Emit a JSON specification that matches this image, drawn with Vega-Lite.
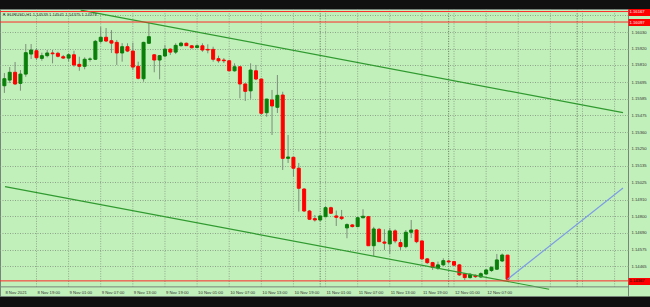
{
"$schema":"https://vega.github.io/schema/vega-lite/v6.json",
"width":628,"height":287,
"autosize":{"type":"none"},
"padding":{"left":0,"right":22,"top":9,"bottom":11},
"background":"#101010",
"config":{"view":{"fill":"#c2f0ba","stroke":"#77857a","strokeWidth":1}},
"title":{"text":"▼ EURUSD,H1  1.14539 1.14541 1.14375 1.14378","anchor":"start","frame":"group","orient":"top","offset":-11.5,"font":"Liberation Sans","fontSize":4.2,"fontWeight":"normal","color":"#333333","dx":2,"baseline":"middle"},
"resolve":{"axis":{"y":"independent"}},
"datasets":{
"bars":[
{"t":"2021-11-08T13:00:00Z","o":1.15671,"h":1.15756,"l":1.15623,"c":1.15718},
{"t":"2021-11-08T14:00:00Z","o":1.15709,"h":1.15796,"l":1.15689,"c":1.15761},
{"t":"2021-11-08T15:00:00Z","o":1.15761,"h":1.15830,"l":1.15676,"c":1.15683},
{"t":"2021-11-08T16:00:00Z","o":1.15687,"h":1.15776,"l":1.15638,"c":1.15749},
{"t":"2021-11-08T17:00:00Z","o":1.15749,"h":1.15950,"l":1.15731,"c":1.15892},
{"t":"2021-11-08T18:00:00Z","o":1.15883,"h":1.15950,"l":1.15850,"c":1.15910},
{"t":"2021-11-08T19:00:00Z","o":1.15905,"h":1.15923,"l":1.15843,"c":1.15858},
{"t":"2021-11-08T20:00:00Z","o":1.15854,"h":1.15892,"l":1.15838,"c":1.15872},
{"t":"2021-11-08T21:00:00Z","o":1.15872,"h":1.15910,"l":1.15861,"c":1.15890},
{"t":"2021-11-08T22:00:00Z","o":1.15890,"h":1.15910,"l":1.15821,"c":1.15885},
{"t":"2021-11-08T23:00:00Z","o":1.15888,"h":1.15898,"l":1.15861,"c":1.15868},
{"t":"2021-11-09T00:00:00Z","o":1.15865,"h":1.15877,"l":1.15850,"c":1.15856},
{"t":"2021-11-09T01:00:00Z","o":1.15856,"h":1.15888,"l":1.15832,"c":1.15878},
{"t":"2021-11-09T02:00:00Z","o":1.15878,"h":1.15905,"l":1.15798,"c":1.15810},
{"t":"2021-11-09T03:00:00Z","o":1.15814,"h":1.15865,"l":1.15771,"c":1.15801},
{"t":"2021-11-09T04:00:00Z","o":1.15801,"h":1.15861,"l":1.15781,"c":1.15848},
{"t":"2021-11-09T05:00:00Z","o":1.15848,"h":1.15861,"l":1.15832,"c":1.15850},
{"t":"2021-11-09T06:00:00Z","o":1.15848,"h":1.15977,"l":1.15843,"c":1.15968},
{"t":"2021-11-09T07:00:00Z","o":1.15968,"h":1.16065,"l":1.15955,"c":1.15995},
{"t":"2021-11-09T08:00:00Z","o":1.15995,"h":1.16057,"l":1.15963,"c":1.15970},
{"t":"2021-11-09T09:00:00Z","o":1.15972,"h":1.16043,"l":1.15890,"c":1.15956},
{"t":"2021-11-09T10:00:00Z","o":1.15961,"h":1.15977,"l":1.15810,"c":1.15890},
{"t":"2021-11-09T11:00:00Z","o":1.15890,"h":1.15956,"l":1.15832,"c":1.15932},
{"t":"2021-11-09T12:00:00Z","o":1.15932,"h":1.15955,"l":1.15896,"c":1.15903},
{"t":"2021-11-09T13:00:00Z","o":1.15903,"h":1.15959,"l":1.15776,"c":1.15796},
{"t":"2021-11-09T14:00:00Z","o":1.15801,"h":1.15832,"l":1.15714,"c":1.15721},
{"t":"2021-11-09T15:00:00Z","o":1.15718,"h":1.15965,"l":1.15698,"c":1.15961},
{"t":"2021-11-09T16:00:00Z","o":1.15955,"h":1.16092,"l":1.15950,"c":1.15999},
{"t":"2021-11-09T17:00:00Z","o":1.15878,"h":1.15883,"l":1.15761,"c":1.15843},
{"t":"2021-11-09T18:00:00Z","o":1.15843,"h":1.15877,"l":1.15714,"c":1.15872},
{"t":"2021-11-09T19:00:00Z","o":1.15870,"h":1.15943,"l":1.15861,"c":1.15916},
{"t":"2021-11-09T20:00:00Z","o":1.15916,"h":1.15921,"l":1.15877,"c":1.15896},
{"t":"2021-11-09T21:00:00Z","o":1.15896,"h":1.15955,"l":1.15883,"c":1.15941},
{"t":"2021-11-09T22:00:00Z","o":1.15939,"h":1.15965,"l":1.15932,"c":1.15956},
{"t":"2021-11-09T23:00:00Z","o":1.15955,"h":1.15960,"l":1.15937,"c":1.15939},
{"t":"2021-11-10T00:00:00Z","o":1.15938,"h":1.15943,"l":1.15920,"c":1.15925},
{"t":"2021-11-10T01:00:00Z","o":1.15927,"h":1.15947,"l":1.15922,"c":1.15938},
{"t":"2021-11-10T02:00:00Z","o":1.15938,"h":1.15955,"l":1.15898,"c":1.15910},
{"t":"2021-11-10T03:00:00Z","o":1.15914,"h":1.15948,"l":1.15888,"c":1.15910},
{"t":"2021-11-10T04:00:00Z","o":1.15914,"h":1.15932,"l":1.15832,"c":1.15848},
{"t":"2021-11-10T05:00:00Z","o":1.15852,"h":1.15872,"l":1.15825,"c":1.15838},
{"t":"2021-11-10T06:00:00Z","o":1.15843,"h":1.15856,"l":1.15823,"c":1.15838},
{"t":"2021-11-10T07:00:00Z","o":1.15838,"h":1.15843,"l":1.15769,"c":1.15771},
{"t":"2021-11-10T08:00:00Z","o":1.15771,"h":1.15821,"l":1.15765,"c":1.15798},
{"t":"2021-11-10T09:00:00Z","o":1.15798,"h":1.15800,"l":1.15587,"c":1.15683},
{"t":"2021-11-10T10:00:00Z","o":1.15683,"h":1.15685,"l":1.15569,"c":1.15634},
{"t":"2021-11-10T11:00:00Z","o":1.15637,"h":1.15821,"l":1.15584,"c":1.15776},
{"t":"2021-11-10T12:00:00Z","o":1.15771,"h":1.15810,"l":1.15709,"c":1.15716},
{"t":"2021-11-10T13:00:00Z","o":1.15716,"h":1.15718,"l":1.15476,"c":1.15487},
{"t":"2021-11-10T14:00:00Z","o":1.15491,"h":1.15584,"l":1.15464,"c":1.15582},
{"t":"2021-11-10T15:00:00Z","o":1.15576,"h":1.15643,"l":1.15342,"c":1.15536},
{"t":"2021-11-10T16:00:00Z","o":1.15527,"h":1.15743,"l":1.15489,"c":1.15607},
{"t":"2021-11-10T17:00:00Z","o":1.15609,"h":1.15631,"l":1.15108,"c":1.15186},
{"t":"2021-11-10T18:00:00Z","o":1.15186,"h":1.15342,"l":1.15155,"c":1.15195},
{"t":"2021-11-10T19:00:00Z","o":1.15193,"h":1.15195,"l":1.15063,"c":1.15120},
{"t":"2021-11-10T20:00:00Z","o":1.15120,"h":1.15155,"l":1.14830,"c":1.14986},
{"t":"2021-11-10T21:00:00Z","o":1.14981,"h":1.14986,"l":1.14828,"c":1.14834},
{"t":"2021-11-10T22:00:00Z","o":1.14834,"h":1.14841,"l":1.14774,"c":1.14779},
{"t":"2021-11-10T23:00:00Z","o":1.14783,"h":1.14807,"l":1.14763,"c":1.14774},
{"t":"2021-11-11T00:00:00Z","o":1.14774,"h":1.14803,"l":1.14768,"c":1.14801},
{"t":"2021-11-11T01:00:00Z","o":1.14796,"h":1.14868,"l":1.14792,"c":1.14856},
{"t":"2021-11-11T02:00:00Z","o":1.14856,"h":1.14863,"l":1.14814,"c":1.14819},
{"t":"2021-11-11T03:00:00Z","o":1.14801,"h":1.14837,"l":1.14734,"c":1.14792},
{"t":"2021-11-11T04:00:00Z","o":1.14794,"h":1.14841,"l":1.14774,"c":1.14783},
{"t":"2021-11-11T05:00:00Z","o":1.14721,"h":1.14752,"l":1.14652,"c":1.14743},
{"t":"2021-11-11T06:00:00Z","o":1.14741,"h":1.14747,"l":1.14724,"c":1.14730},
{"t":"2021-11-11T07:00:00Z","o":1.14730,"h":1.14796,"l":1.14725,"c":1.14789},
{"t":"2021-11-11T08:00:00Z","o":1.14789,"h":1.14846,"l":1.14785,"c":1.14799},
{"t":"2021-11-11T09:00:00Z","o":1.14796,"h":1.14801,"l":1.14600,"c":1.14602},
{"t":"2021-11-11T10:00:00Z","o":1.14602,"h":1.14728,"l":1.14534,"c":1.14714},
{"t":"2021-11-11T11:00:00Z","o":1.14712,"h":1.14721,"l":1.14627,"c":1.14629},
{"t":"2021-11-11T12:00:00Z","o":1.14627,"h":1.14712,"l":1.14574,"c":1.14619},
{"t":"2021-11-11T13:00:00Z","o":1.14614,"h":1.14721,"l":1.14547,"c":1.14701},
{"t":"2021-11-11T14:00:00Z","o":1.14701,"h":1.14712,"l":1.14619,"c":1.14634},
{"t":"2021-11-11T15:00:00Z","o":1.14623,"h":1.14645,"l":1.14574,"c":1.14596},
{"t":"2021-11-11T16:00:00Z","o":1.14596,"h":1.14707,"l":1.14585,"c":1.14692},
{"t":"2021-11-11T17:00:00Z","o":1.14692,"h":1.14774,"l":1.14654,"c":1.14707},
{"t":"2021-11-11T18:00:00Z","o":1.14707,"h":1.14712,"l":1.14619,"c":1.14629},
{"t":"2021-11-11T19:00:00Z","o":1.14634,"h":1.14636,"l":1.14507,"c":1.14514},
{"t":"2021-11-11T20:00:00Z","o":1.14514,"h":1.14520,"l":1.14480,"c":1.14489},
{"t":"2021-11-11T21:00:00Z","o":1.14489,"h":1.14494,"l":1.14440,"c":1.14458},
{"t":"2021-11-11T22:00:00Z","o":1.14452,"h":1.14496,"l":1.14440,"c":1.14474},
{"t":"2021-11-11T23:00:00Z","o":1.14474,"h":1.14518,"l":1.14467,"c":1.14502},
{"t":"2021-11-12T00:00:00Z","o":1.14500,"h":1.14507,"l":1.14487,"c":1.14494},
{"t":"2021-11-12T01:00:00Z","o":1.14496,"h":1.14500,"l":1.14467,"c":1.14472},
{"t":"2021-11-12T02:00:00Z","o":1.14474,"h":1.14480,"l":1.14400,"c":1.14407},
{"t":"2021-11-12T03:00:00Z","o":1.14414,"h":1.14420,"l":1.14373,"c":1.14389},
{"t":"2021-11-12T04:00:00Z","o":1.14389,"h":1.14420,"l":1.14382,"c":1.14411},
{"t":"2021-11-12T05:00:00Z","o":1.14404,"h":1.14410,"l":1.14387,"c":1.14395},
{"t":"2021-11-12T06:00:00Z","o":1.14393,"h":1.14424,"l":1.14387,"c":1.14415},
{"t":"2021-11-12T07:00:00Z","o":1.14413,"h":1.14447,"l":1.14407,"c":1.14440},
{"t":"2021-11-12T08:00:00Z","o":1.14436,"h":1.14464,"l":1.14427,"c":1.14458},
{"t":"2021-11-12T09:00:00Z","o":1.14445,"h":1.14547,"l":1.14440,"c":1.14507},
{"t":"2021-11-12T10:00:00Z","o":1.14500,"h":1.14550,"l":1.14493,"c":1.14540},
{"t":"2021-11-12T11:00:00Z","o":1.14539,"h":1.14541,"l":1.14375,"c":1.14378}
],
"lines":[
{"id":"up","t":"2021-11-09T03:16:00Z","p":1.16177},
{"id":"up","t":"2021-11-13T08:34:00Z","p":1.15491},
{"id":"lo","t":"2021-11-08T13:07:00Z","p":1.14997},
{"id":"lo","t":"2021-11-12T18:46:00Z","p":1.14311},
{"id":"proj","t":"2021-11-12T11:00:00Z","p":1.14378},
{"id":"proj","t":"2021-11-13T08:34:00Z","p":1.14988}
],
"hl":[
{"p":1.16167},
{"p":1.16097},
{"p":1.14367}
],
"sep":[
{"t":"2021-11-11T00:00:00Z"},
{"t":"2021-11-12T00:00:00Z"},
{"t":"2021-11-13T00:00:00Z"}
],
"vgrid":[
{"t":"2021-11-08T19:00:00Z"},{"t":"2021-11-09T01:00:00Z"},{"t":"2021-11-09T07:00:00Z"},{"t":"2021-11-09T13:00:00Z"},
{"t":"2021-11-09T19:00:00Z"},{"t":"2021-11-10T01:00:00Z"},{"t":"2021-11-10T07:00:00Z"},{"t":"2021-11-10T13:00:00Z"},
{"t":"2021-11-10T19:00:00Z"},{"t":"2021-11-11T01:00:00Z"},{"t":"2021-11-11T07:00:00Z"},{"t":"2021-11-11T13:00:00Z"},
{"t":"2021-11-11T19:00:00Z"},{"t":"2021-11-12T01:00:00Z"},{"t":"2021-11-12T07:00:00Z"},{"t":"2021-11-12T13:00:00Z"},
{"t":"2021-11-12T19:00:00Z"},{"t":"2021-11-13T01:00:00Z"},{"t":"2021-11-13T07:00:00Z"}
],
"xlab":[
{"t":"2021-11-08T13:00:00Z"},{"t":"2021-11-08T19:00:00Z"},{"t":"2021-11-09T01:00:00Z"},{"t":"2021-11-09T07:00:00Z"},
{"t":"2021-11-09T13:00:00Z"},{"t":"2021-11-09T19:00:00Z"},{"t":"2021-11-10T01:00:00Z"},{"t":"2021-11-10T07:00:00Z"},
{"t":"2021-11-10T13:00:00Z"},{"t":"2021-11-10T19:00:00Z"},{"t":"2021-11-11T01:00:00Z"},{"t":"2021-11-11T07:00:00Z"},
{"t":"2021-11-11T13:00:00Z"},{"t":"2021-11-11T19:00:00Z"},{"t":"2021-11-12T01:00:00Z"},{"t":"2021-11-12T07:00:00Z"}
]
},
"layer":[
{"data":{"name":"vgrid"},"mark":{"type":"rule","color":"#8ea58b","strokeDash":[1,1.5],"strokeWidth":1},
"encoding":{
"x":{"field":"t","type":"temporal","scale":{"type":"utc","nice":false,"domain":[1636376820000,1636792440000]},"axis":null},
"y":{"datum":1.14327,"type":"quantitative","scale":{"domain":[1.14266,1.16184],"zero":false,"nice":false},
"axis":{"title":null,"orient":"right","offset":11.5,"labels":false,"ticks":false,"grid":false,"domain":true,"domainColor":"#c2f0ba","domainWidth":22}},
"y2":{"datum":1.16184}}},
{"data":{"name":"sep"},"mark":{"type":"rule","color":"#5e705b","strokeDash":[1,1.5],"strokeWidth":1},
"encoding":{
"x":{"field":"t","type":"temporal","scale":{"type":"utc","nice":false,"domain":[1636376820000,1636792440000]},"axis":null},
"y":{"datum":1.14327,"type":"quantitative","scale":{"domain":[1.14266,1.16184],"zero":false,"nice":false},"axis":null},
"y2":{"datum":1.16184}}},
{"data":{"name":"bars"},"mark":{"type":"rule","color":"#7b8d79","strokeWidth":1},
"encoding":{
"x":{"field":"t","type":"temporal","scale":{"type":"utc","nice":false,"domain":[1636376820000,1636792440000]},"axis":null},
"y":{"field":"l","type":"quantitative","scale":{"domain":[1.14266,1.16184],"zero":false,"nice":false},
"axis":{"title":null,"orient":"right","offset":0,
"values":[1.16145,1.1603,1.1592,1.1581,1.15695,1.15585,1.15475,1.1536,1.1525,1.15135,1.15025,1.1491,1.148,1.1469,1.14575,1.14465],
"format":".5f","labelFont":"Liberation Sans","labelFontSize":4.2,"labelColor":"#333333",
"labelPadding":3,"labelAlign":"left","labelBaseline":"middle","ticks":false,
"labelOverlap":false,"labelBound":false,"labelFlush":false,
"domain":false,
"grid":true,"gridColor":"#8ea58b","gridDash":[1,1.5],"gridWidth":1}},
"y2":{"field":"h"}}},
{"data":{"name":"bars"},"mark":{"type":"bar","size":3,"strokeWidth":1},
"encoding":{
"x":{"field":"t","type":"temporal","scale":{"type":"utc","nice":false,"domain":[1636376820000,1636792440000]},"axis":null},
"y":{"field":"o","type":"quantitative","scale":{"domain":[1.14266,1.16184],"zero":false,"nice":false},"axis":null},"y2":{"field":"c"},
"color":{"condition":{"test":"datum.c >= datum.o","value":"#0a7f0a"},"value":"#ff0000"},
"stroke":{"condition":{"test":"datum.c >= datum.o","value":"#0a7f0a"},"value":"#ff0000"}}},
{"data":{"name":"lines"},"mark":{"type":"line"},
"encoding":{
"x":{"field":"t","type":"temporal","scale":{"type":"utc","nice":false,"domain":[1636376820000,1636792440000]},"axis":null},
"y":{"field":"p","type":"quantitative","scale":{"domain":[1.14266,1.16184],"zero":false,"nice":false},"axis":null},
"detail":{"field":"id"},
"color":{"field":"id","type":"nominal","scale":{"domain":["up","lo","proj"],"range":["#2f9a2f","#2f9a2f","#7c9ce6"]},"legend":null},
"strokeWidth":{"field":"id","type":"nominal","scale":{"domain":["up","lo","proj"],"range":[1.2,1.2,0.8]},"legend":null}}},
{"data":{"name":"hl"},"mark":{"type":"rule","color":"#ff2a2a","strokeWidth":1},
"encoding":{
"y":{"field":"p","type":"quantitative","scale":{"domain":[1.14266,1.16184],"zero":false,"nice":false},
"axis":{"title":null,"orient":"right","offset":0,"values":[1.16167,1.16097,1.14367],"format":".5f",
"ticks":true,"tickSize":22,"tickWidth":7,"tickColor":"#ff0000","tickCap":"butt",
"labelPadding":-21,"labelAlign":"left","labelBaseline":"middle","labelFont":"Liberation Sans","labelFontSize":4.2,
"labelColor":{"condition":{"test":"datum.value < 1.15","value":"#000000"},"value":"#ffffff"},
"labelOverlap":false,"labelBound":false,"labelFlush":false,
"domain":false,"grid":false}}}},
{"data":{"values":[{}]},"mark":{"type":"rule","color":"#77857a","strokeWidth":1},
"encoding":{
"y":{"datum":1.14327,"type":"quantitative","scale":{"domain":[1.14266,1.16184],"zero":false,"nice":false},"axis":null}}},
{"data":{"name":"xlab"},"mark":{"type":"text","align":"left","baseline":"middle","dx":1,"font":"Liberation Sans","fontSize":4.2,"color":"#333333"},
"encoding":{
"x":{"field":"t","type":"temporal","scale":{"type":"utc","nice":false,"domain":[1636376820000,1636792440000]},"axis":null},
"y":{"datum":1.14283,"type":"quantitative","scale":{"domain":[1.14266,1.16184],"zero":false,"nice":false},"axis":null},
"text":{"value":{"expr":"(utcdate(datum.t) == 8 && utchours(datum.t) == 13) ? '8 Nov 2021' : utcFormat(datum.t, '%-d %b %H:%M')"}}}}
]
}
